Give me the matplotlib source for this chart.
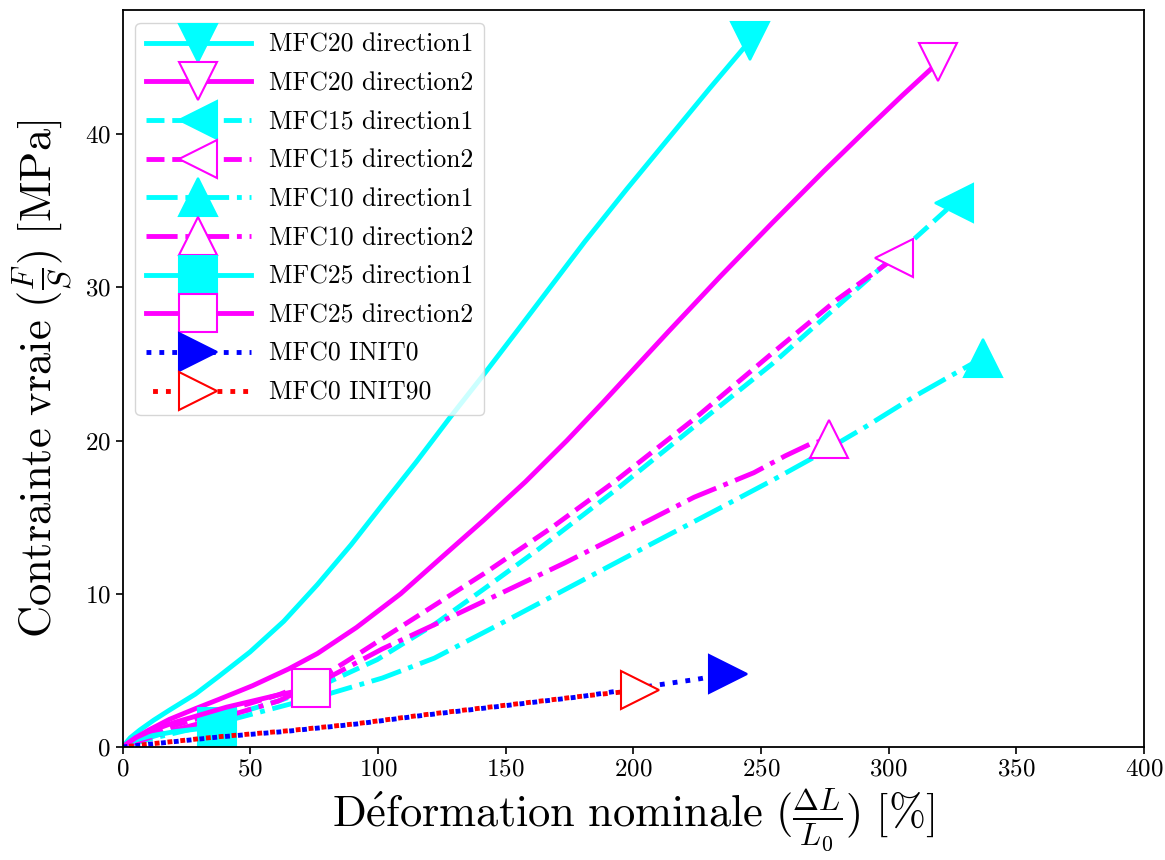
import matplotlib
matplotlib.use('Agg')
import matplotlib.pyplot as plt

plt.rcParams['font.family'] = 'cmr10'
plt.rcParams['mathtext.fontset'] = 'cm'
plt.rcParams['axes.formatter.use_mathtext'] = True

# ---- data ----
mfc20_d1_x = [0, 3, 6.7, 12.2, 18.3, 28.5, 37.6, 49.9, 63.1, 76.3, 89.5, 101.7, 115, 128.2, 141.4, 154.7, 167.9, 181.1, 197.4, 213.7, 230, 245.7]
mfc20_d1_y = [0, 0.6, 1.1, 1.75, 2.4, 3.45, 4.6, 6.2, 8.2, 10.6, 13.2, 15.8, 18.6, 21.5, 24.3, 27.2, 30.1, 33.0, 36.4, 39.7, 43.0, 46.1]

mfc20_d2_x = [0, 5.1, 10.2, 18.3, 28.5, 37.6, 50.9, 65.1, 76.3, 91.6, 108.9, 125.1, 141.4, 157.7, 174, 188.2, 201.5, 213.7, 234, 254.4, 274.7, 292, 305.2, 319.5]
mfc20_d2_y = [0, 0.6, 1.1, 1.8, 2.5, 3.1, 4.0, 5.1, 6.1, 7.8, 10.0, 12.4, 14.8, 17.3, 20.0, 22.5, 24.9, 27.1, 30.7, 34.2, 37.6, 40.4, 42.5, 44.7]

mfc15_d1_x = [0, 10.2, 20.3, 30.5, 40.7, 50.9, 61, 76.3, 99.7, 122.1, 141.4, 162.8, 193.3, 223.8, 254.4, 274.7, 295.1, 310.3, 325.6]
mfc15_d1_y = [0, 0.6, 1.1, 1.5, 2.0, 2.5, 3.0, 3.9, 5.7, 8.0, 10.3, 12.9, 16.8, 20.9, 25.0, 28.0, 31.0, 33.2, 35.5]

mfc15_d2_x = [0, 10.2, 20.3, 30.5, 40.7, 50.9, 61, 76.3, 92.6, 117, 141.4, 167.9, 193.3, 223.8, 254.4, 279.8, 302.2]
mfc15_d2_y = [0, 0.8, 1.4, 1.9, 2.4, 2.9, 3.4, 4.4, 6.1, 8.7, 11.3, 14.3, 17.4, 21.4, 25.7, 29.2, 31.9]

mfc10_d1_x = [0, 10.2, 20.3, 40.7, 61, 81.4, 101.7, 122.1, 147.5, 178.1, 206.5, 234, 254.4, 269.6, 290, 310.3, 336.8]
mfc10_d1_y = [0, 0.5, 0.9, 1.7, 2.6, 3.5, 4.5, 5.8, 8.0, 10.7, 13.2, 15.6, 17.4, 18.8, 20.8, 22.9, 25.4]

mfc10_d2_x = [0, 10.2, 20.3, 40.7, 61, 81.4, 101.7, 126.2, 141.4, 173, 201.5, 223.8, 247.2, 259.5, 269.6, 276.8]
mfc10_d2_y = [0, 0.6, 1.1, 2.0, 3.0, 4.6, 6.4, 8.3, 9.5, 12.0, 14.4, 16.3, 17.9, 19.0, 19.8, 20.1]

mfc25_d1_x = [0, 5.1, 10.2, 20.3, 30.5, 37.1]
mfc25_d1_y = [0, 0.45, 0.7, 1.0, 1.2, 1.3]

mfc25_d2_x = [0, 5.1, 10.2, 20.3, 30.5, 40.7, 50.9, 61, 73.8]
mfc25_d2_y = [0, 0.6, 1.0, 1.6, 2.1, 2.6, 3.0, 3.4, 3.85]

mfc0_init0_x = [0, 20.3, 37.6, 64.1, 91.6, 117, 147.5, 179.1, 192.3, 207.6, 224.9, 237.1]
mfc0_init0_y = [0, 0.35, 0.65, 1.02, 1.5, 2.05, 2.65, 3.28, 3.61, 4.0, 4.42, 4.77]

mfc0_init90_x = [0, 20.3, 37.6, 64.1, 91.6, 117, 147.5, 179.1, 193.3, 202.5]
mfc0_init90_y = [0, 0.37, 0.67, 1.05, 1.52, 2.08, 2.68, 3.3, 3.55, 3.72]

labels = ['MFC20 direction1', 'MFC20 direction2', 'MFC15 direction1', 'MFC15 direction2',
          'MFC10 direction1', 'MFC10 direction2', 'MFC25 direction1', 'MFC25 direction2',
          'MFC0 INIT0', 'MFC0 INIT90']

xticks = [0, 50, 100, 150, 200, 250, 300, 350, 400]
yticks = [0, 10, 20, 30, 40]

series = [
    (mfc20_d1_x, mfc20_d1_y, '#00FFFF', '-', 'v', True),
    (mfc20_d2_x, mfc20_d2_y, '#FF00FF', '-', 'v', False),
    (mfc15_d1_x, mfc15_d1_y, '#00FFFF', '--', '<', True),
    (mfc15_d2_x, mfc15_d2_y, '#FF00FF', '--', '<', False),
    (mfc10_d1_x, mfc10_d1_y, '#00FFFF', '-.', '^', True),
    (mfc10_d2_x, mfc10_d2_y, '#FF00FF', '-.', '^', False),
    (mfc25_d1_x, mfc25_d1_y, '#00FFFF', '-', 's', True),
    (mfc25_d2_x, mfc25_d2_y, '#FF00FF', '-', 's', False),
    (mfc0_init0_x, mfc0_init0_y, '#0000FF', ':', '>', True),
    (mfc0_init90_x, mfc0_init90_y, '#FF0000', (1.3, (1, 1.65)), '>', False),
]

fig = plt.figure(figsize=(11.65, 8.6), dpi=100)
ax = fig.add_axes([0.1052, 0.1314, 0.8768, 0.857])

for (x, y, c, ls, mk, filled), lab in zip(series, labels):
    ax.plot(x, y, color=c, linestyle=ls, linewidth=3.5, marker=mk, markevery=[-1],
            markersize=28, markerfacecolor=c if filled else 'white',
            markeredgecolor=c, markeredgewidth=1.5, label=lab)

ax.set_xlim(0, 400)
ax.set_ylim(0, 48.1)
ax.set_xticks(xticks)
ax.set_yticks(yticks)
ax.tick_params(labelsize=18, width=1.2, length=5)
for s in ax.spines.values():
    s.set_linewidth(1.3)

ax.set_xlabel(r'$\mathrm{D\acute{e}formation\ nominale}\ (\frac{\Delta L}{L_0})\ [\%]$', fontsize=32, labelpad=4)
ax.set_ylabel(r'$\mathrm{Contrainte\ vraie}\ (\frac{F}{S})\ [\mathrm{MPa}]$', fontsize=32, labelpad=8)

ax.legend(loc='upper left', fontsize=18.5, handlelength=4.1, handletextpad=0.7,
          labelspacing=0.58)

fig.savefig('out.png', dpi=100)
